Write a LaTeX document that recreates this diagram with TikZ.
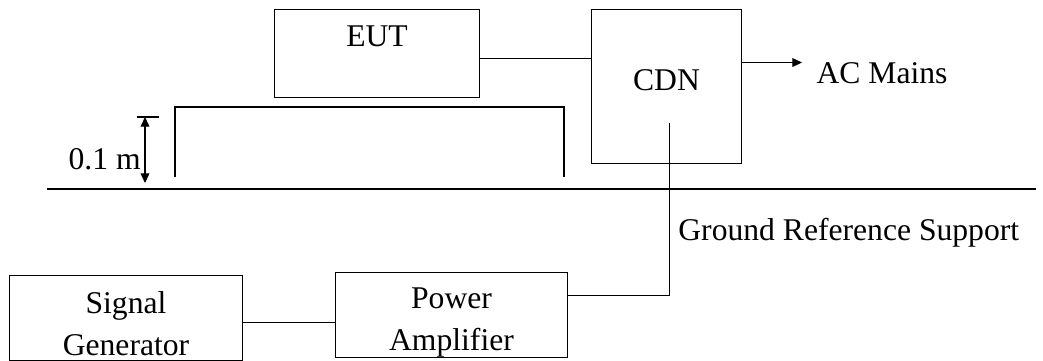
\documentclass[tikz,border=0pt]{standalone}
\usepackage{fontspec}
\setmainfont{Liberation Serif}
\usetikzlibrary{arrows.meta}

\begin{document}
\begin{tikzpicture}[x=0.02cm, y=-0.02cm, >={Triangle[length=5.5pt,width=5pt]}, line width=0.6pt,
    blk/.style={draw, inner sep=0pt, align=center, font=\fontsize{18}{24}\selectfont},
    lbl/.style={font=\fontsize{18}{24}\selectfont}]
    \useasboundingbox (0,0) rectangle (1043,361);

    % 上方设备
    \node[blk, anchor=north west, minimum width=4.1cm, text height=0.73cm, text depth=1.03cm] (eut) at (274,9) {EUT};
    \node[blk, anchor=north west, minimum width=3cm, text height=1.61cm, text depth=1.47cm] (cdn) at (591,9) {CDN};
    \node[lbl, anchor=base west, inner xsep=8pt] (ac) at (802,84) {AC Mains};

    % 下方仪器
    \node[blk, anchor=north west, text width=4.66cm, text height=0.76cm, text depth=0.94cm] (sg) at (9,275) {Signal\\Generator};
    \node[blk, anchor=north west, text width=4.64cm, text height=0.72cm, text depth=0.98cm] (pa) at (335,272) {Power\\Amplifier};
    \node[lbl, anchor=base west] (grs) at (672,240) {Ground Reference Support};

    % 连线
    \draw ([yshift=-0.1cm]eut.east) coordinate (e1) -- (e1 -| cdn.west);
    \draw[->] ([yshift=0.48cm]cdn.east) coordinate (c1) -- (c1 -| ac.west);
    \draw ([yshift=-0.09cm]sg.east) coordinate (s1) -- (s1 -| pa.west);
    \coordinate (cdnport) at ([xshift=0.06cm, yshift=-0.72cm]cdn.center);
    \draw ([yshift=0.39cm]pa.east) -| (cdnport);

    % 绝缘支架与参考地
    \draw (175,177) |- (564,107) -- (564,177);
    \draw (47,189) -- (1036,189);

    % 高度标注
    \coordinate (dimtop) at (145,117);
    \coordinate (dimbot) at (145,183);
    \draw (137,117) -- (159,117);
    \draw[<->] (dimtop) -- (dimbot);
    \node[lbl, anchor=base east] (dim) at (147,170) {0.1 m};
\end{tikzpicture}
\end{document}
